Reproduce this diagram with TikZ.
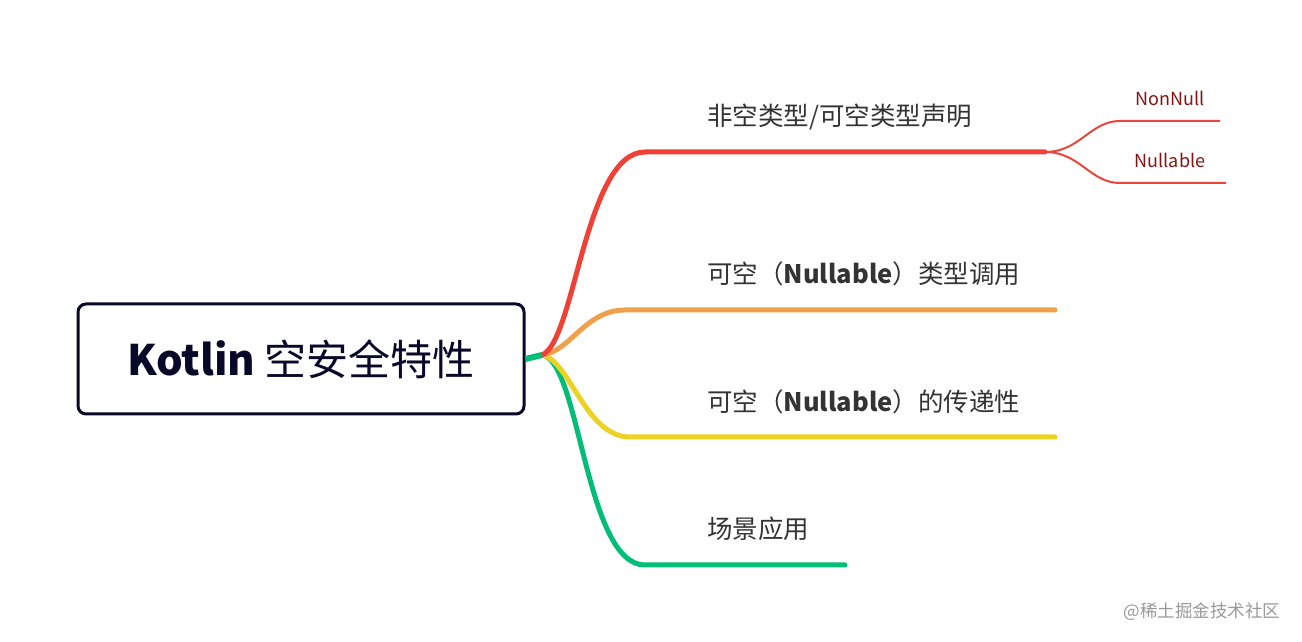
\documentclass[tikz,border=0pt]{standalone}
\usepackage{fontspec}
\setmainfont{Noto Sans CJK SC}
\begin{document}
\begin{tikzpicture}[x=1pt,y=1pt,
  lbl/.style={anchor=west,inner sep=0pt,font=\fontsize{25.5}{28}\selectfont,text=black!80},
  sub/.style={anchor=center,inner sep=0pt,font=\fontsize{18}{20}\selectfont,text={rgb,255:red,130;green,20;blue,20}},
  br/.style={line width=5pt,line cap=round},
  sb/.style={line width=2pt,draw={rgb,255:red,235;green,70;blue,60}}]
\definecolor{cr}{RGB}{240,65,55}
\definecolor{co}{RGB}{240,160,75}
\definecolor{cy}{RGB}{238,210,35}
\definecolor{cg}{RGB}{0,190,120}
\definecolor{nv}{RGB}{8,8,40}
\useasboundingbox (0,0) rectangle (1302,642);
\node[draw=nv,line width=3pt,rounded corners=8pt,minimum width=446pt,minimum height=110pt,inner sep=0pt,text=nv,font=\fontsize{42}{48}\selectfont] (root) at (301,283) {\textbf{Kotlin} 空安全特性};
\coordinate (hub) at (542,287);
\coordinate (r1) at (645,490);\coordinate (r2) at (1045,490);
\coordinate (o1) at (625,332);\coordinate (o2) at (1055,332);
\coordinate (y1) at (630,205);\coordinate (y2) at (1055,205);
\coordinate (g1) at (645,77);\coordinate (g2) at (845,77);
\draw[br,draw=cg] (hub) .. controls (580,282) and (585,77) .. (g1) -- (g2);
\draw[br,draw=cy] (hub) .. controls (570,282) and (585,205) .. (y1) -- (y2);
\draw[br,draw=co] (hub) .. controls (570,290) and (585,332) .. (o1) -- (o2);
\draw[br,draw=cr] (hub) .. controls (575,300) and (585,490) .. (r1) -- (r2);
\draw[line width=6pt,draw=cg] (root.east) -- (hub);
\coordinate (s1) at (1120,521);\coordinate (s1e) at (1220,521);
\coordinate (s2) at (1120,459);\coordinate (s2e) at (1226,459);
\draw[sb] (r2) .. controls (1080,490) and (1090,521) .. (s1) -- (s1e);
\draw[sb] (r2) .. controls (1080,490) and (1090,459) .. (s2) -- (s2e);
\node[sub] (n1) at (1170,544) {NonNull};
\node[sub] (n2) at (1170,482) {Nullable};
\node[lbl] (l1) at (707,525) {非空类型/可空类型声明};
\node[lbl] (l2) at (707,368) {可空（\textbf{Nullable}）类型调用};
\node[lbl] (l3) at (707,240) {可空（\textbf{Nullable}）的传递性};
\node[lbl] (l4) at (707,113) {场景应用};
\node[anchor=center,inner sep=0pt,font=\fontsize{17.5}{20}\selectfont,text=black!40] (wm) at (1202,30) {@稀土掘金技术社区};
\end{tikzpicture}
\end{document}
